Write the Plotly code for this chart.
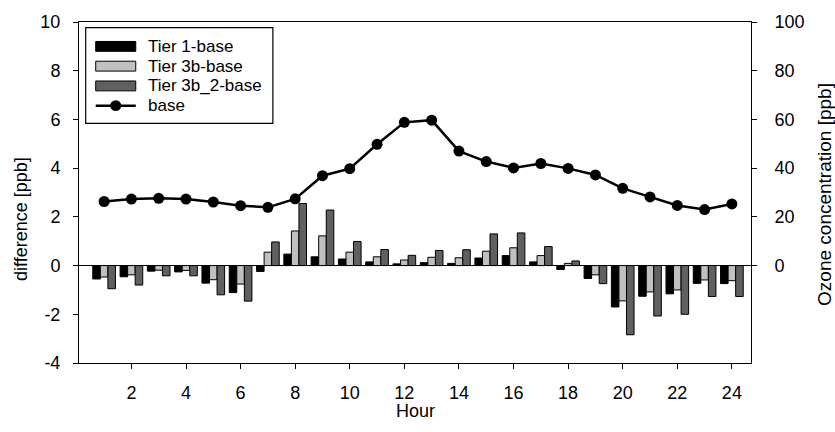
import plotly.graph_objects as go

hours = list(range(1, 25))
tier1 = [-0.55, -0.46, -0.23, -0.26, -0.72, -1.11, -0.24, 0.47, 0.36, 0.27, 0.15, 0.07,
         0.12, 0.09, 0.31, 0.41, 0.15, -0.16, -0.53, -1.70, -1.26, -1.16, -0.73, -0.74]
tier3b = [-0.47, -0.38, -0.19, -0.20, -0.58, -0.76, 0.55, 1.42, 1.22, 0.55, 0.36, 0.23,
          0.34, 0.32, 0.59, 0.73, 0.41, 0.09, -0.38, -1.45, -1.08, -1.00, -0.59, -0.62]
tier3b2 = [-0.95, -0.80, -0.42, -0.42, -1.20, -1.46, 0.97, 2.55, 2.28, 0.99, 0.66, 0.42,
           0.62, 0.65, 1.30, 1.34, 0.78, 0.19, -0.74, -2.84, -2.07, -2.00, -1.27, -1.27]
base = [26.3, 27.3, 27.6, 27.3, 26.1, 24.6, 23.9, 27.4, 36.9, 39.8, 49.8, 58.8,
        59.7, 47.0, 42.7, 40.1, 41.9, 39.9, 37.2, 31.7, 28.2, 24.7, 23.0, 25.3]
xticks = list(range(2, 25, 2))
yticks = list(range(-4, 11, 2))
ytick_labels = [str(v) for v in yticks]
y2ticks = list(range(0, 101, 20))

names = ["Tier 1-base", "Tier 3b-base", "Tier 3b_2-base", "base"]
colors = ["#000000", "#c0c0c0", "#606060"]

W, H = 835, 432
L, R, T, B = 79.3, 750.7, 18.3, 363.5
FONT = "Liberation Sans, Arial, sans-serif"

def px(x):
    return (x - L) / (R - L)

def py(y):
    return (B - y) / (B - T)

fig = go.Figure()
for vals, nm, c in zip([tier1, tier3b, tier3b2], names[:3], colors):
    fig.add_trace(go.Bar(x=hours, y=vals, name=nm, marker=dict(color=c, line=dict(color="black", width=1)),
                         showlegend=False))
fig.add_trace(go.Scatter(x=hours, y=base, name=names[3], yaxis="y2", mode="lines+markers",
                         line=dict(color="black", width=2.5), marker=dict(color="black", size=11),
                         showlegend=False))

shapes = []
annotations = []
# manual legend
shapes.append(dict(type="rect", xref="paper", yref="paper", x0=px(86), x1=px(273), y0=py(24), y1=py(121),
                   line=dict(color="black", width=1.2), fillcolor="white", layer="above"))
ys = [43, 63, 83, 103]
for i in range(3):
    shapes.append(dict(type="rect", xref="paper", yref="paper", x0=px(96), x1=px(136),
                       y0=py(ys[i] - 5), y1=py(ys[i] + 5), fillcolor=colors[i],
                       line=dict(color="black", width=1), layer="above"))
shapes.append(dict(type="line", xref="paper", yref="paper", x0=px(96), x1=px(136), y0=py(ys[3]), y1=py(ys[3]),
                   line=dict(color="black", width=2.5), layer="above"))
shapes.append(dict(type="circle", xref="paper", yref="paper", x0=px(110.5), x1=px(121.5),
                   y0=py(ys[3] - 5.5), y1=py(ys[3] + 5.5), fillcolor="black", line=dict(color="black", width=0),
                   layer="above"))
for i in range(4):
    annotations.append(dict(x=px(146), y=py(ys[i]), xref="paper", yref="paper", text=names[i], showarrow=False,
                            xanchor="left", yanchor="middle", font=dict(size=17, color="black", family=FONT)))

annotations.append(dict(x=px(22), y=py(218), xref="paper", yref="paper", text="difference [ppb]", showarrow=False,
                        textangle=-90, xanchor="center", yanchor="middle", font=dict(size=18, color="black", family=FONT)))
annotations.append(dict(x=px(824), y=py(193), xref="paper", yref="paper", text="Ozone concentration [ppb]",
                        showarrow=False, textangle=-90, xanchor="center", yanchor="middle",
                        font=dict(size=19, color="black", family=FONT)))
annotations.append(dict(x=0.5, y=py(412), xref="paper", yref="paper", text="Hour", showarrow=False,
                        xanchor="center", yanchor="middle", font=dict(size=18, color="black", family=FONT)))

fig.update_layout(
    width=W, height=H,
    margin=dict(l=L, r=W - R, t=T, b=H - B),
    paper_bgcolor="white", plot_bgcolor="white",
    barmode="group", bargap=0.17, bargroupgap=0,
    font=dict(family=FONT, size=18, color="black"),
    shapes=shapes, annotations=annotations,
    xaxis=dict(range=[0.08, 24.7], tickvals=xticks, ticks="outside", ticklen=5, tickcolor="black",
               showline=True, linecolor="black", linewidth=1, mirror=True, showgrid=False, zeroline=False,
               ticklabelstandoff=8),
    yaxis=dict(range=[-4, 10], tickvals=yticks, ticktext=ytick_labels, ticks="outside", ticklen=5,
               tickcolor="black", showline=True, linecolor="black", linewidth=1, showgrid=False,
               zeroline=True, zerolinecolor="black", zerolinewidth=1, ticklabelstandoff=9),
    yaxis2=dict(range=[-40, 100], tickvals=y2ticks, overlaying="y", side="right", ticks="outside", ticklen=5,
                tickcolor="black", showline=True, linecolor="black", linewidth=1, showgrid=False,
                zeroline=False, ticklabelstandoff=14),
)

fig.write_html("out.html")
